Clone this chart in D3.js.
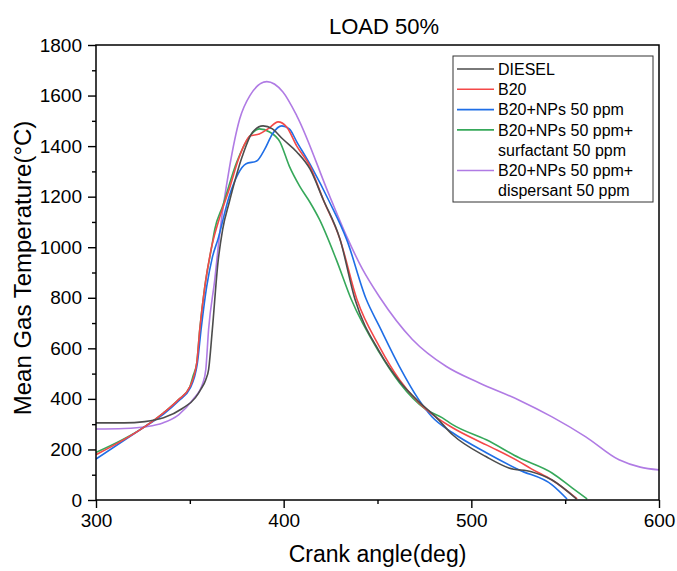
<!DOCTYPE html>
<html lang="en">
  <head>
    <meta charset="utf-8">
    <script src="https://d3js.org/d3.v7.min.js"></script>
    <style>
      body { margin: 0; background: #fff; }
      text { font-family: "Liberation Sans", Arial, sans-serif; fill: #000; }
    </style>
  </head>
  <body>
    <svg width="677" height="571"></svg>
    <script>
      // Data: crank angle (deg) and mean gas temperature (°C)
      var dieselAngle = [300, 315, 326, 336, 346, 353, 356, 358.5, 360, 362, 365, 367.5, 371, 378, 383.5, 389, 394, 399.5, 407, 414, 421, 430, 438, 451, 461.7, 472, 481, 490, 508, 520, 532, 543, 556];
      var dieselTemp  = [305, 305, 310, 325, 362, 405, 440, 476, 516, 675, 940, 1071, 1178, 1361, 1456, 1480, 1468, 1428, 1377, 1310, 1190, 1032, 794, 587, 470, 389, 329, 258, 171, 127, 112, 79, 4];

      var b20Angle = [300, 326, 336, 344, 350, 353.7, 355.3, 358, 361.7, 366, 371, 376, 380, 382, 387, 392, 397, 401.6, 407, 414, 421, 430, 439, 451, 461.7, 472, 481, 490, 508, 525.5, 532, 543, 556.4];
      var b20Temp  = [179, 290, 345, 397, 448, 543, 675, 845, 1004, 1120, 1230, 1350, 1420, 1440, 1448, 1470, 1496, 1476, 1400, 1321, 1190, 1032, 794, 607, 476, 385, 329, 286, 218, 152, 123, 79, 4];

      var npAngle = [300, 326, 336, 344, 350, 354, 356, 359, 362, 365, 371, 380, 385.6, 390, 394, 399, 403, 407, 415.4, 424.5, 433.5, 444, 451, 461.7, 472, 479, 490, 508, 525.5, 543, 551];
      var npTemp  = [162, 290, 340, 392, 440, 540, 675, 845, 960, 1032, 1202, 1330, 1341, 1389, 1448, 1480, 1468, 1417, 1310, 1178, 1032, 794, 687, 528, 397, 329, 266, 187, 119, 60, 4];

      var surfAngle = [300, 326, 336, 344, 350, 351.6, 353.7, 355.3, 358, 361.7, 363.3, 367.5, 375, 382, 387, 392.5, 398, 403, 408.5, 414, 419, 428, 436, 451, 461.7, 476, 484.6, 490, 508, 525.5, 543, 553.7, 561.7];
      var surfTemp  = [188, 290, 345, 397, 448, 488, 543, 675, 845, 1004, 1071, 1163, 1337, 1440, 1468, 1456, 1417, 1321, 1242, 1178, 1111, 952, 794, 583, 464, 357, 325, 298, 238, 167, 107, 48, 4];

      var dispAngle = [300, 315, 326.6, 335.6, 344, 351.6, 357, 358.5, 360, 363.3, 366, 371, 376.6, 382, 391, 399.5, 407, 424.5, 433.5, 442, 451, 468.6, 486.7, 504, 525.5, 543, 561, 578.7, 590, 600];
      var dispTemp  = [281, 283, 290, 305, 337, 397, 464, 516, 675, 873, 1060, 1310, 1508, 1600, 1655, 1615, 1520, 1202, 1044, 913, 804, 635, 528, 464, 395, 329, 250, 159, 130, 119];

      var seriesNames = ["DIESEL", "B20", "B20+NPs 50 ppm", "B20+NPs 50 ppm+\nsurfactant 50 ppm", "B20+NPs 50 ppm+\ndispersant 50 ppm"];
      var seriesColors = ["#4d4d4d", "#f44848", "#1f6ee6", "#36a85a", "#b07be4"];
      var xTicks = [300, 400, 500, 600];
      var yTicks = [0, 200, 400, 600, 800, 1000, 1200, 1400, 1600, 1800];

      var svg = d3.select("svg");
      var plotL = 96, plotR = 659, plotT = 45, plotB = 500;

      var x = d3.scaleLinear().domain([300, 600]).range([plotL, plotR]);
      var y = d3.scaleLinear().domain([0, 1800]).range([plotB, plotT]);

      var series = [
        [dieselAngle, dieselTemp],
        [b20Angle, b20Temp],
        [npAngle, npTemp],
        [surfAngle, surfTemp],
        [dispAngle, dispTemp]
      ].map(function(s, i) {
        return { name: seriesNames[i], color: seriesColors[i],
                 values: s[0].map(function(a, j) { return [a, s[1][j]]; }) };
      });

      svg.append("clipPath").attr("id", "clip")
        .append("rect")
          .attr("x", plotL).attr("y", plotT)
          .attr("width", plotR - plotL).attr("height", plotB - plotT);

      var line = d3.line()
        .x(function(d) { return x(d[0]); })
        .y(function(d) { return y(d[1]); })
        .curve(d3.curveMonotoneX);

      // curves, last series drawn first so the diesel sits on top
      svg.append("g")
        .attr("clip-path", "url(#clip)")
        .selectAll("path")
        .data(series.slice().reverse())
        .enter().append("path")
          .attr("fill", "none")
          .attr("stroke", function(d) { return d.color; })
          .attr("stroke-width", 1.6)
          .attr("d", function(d) { return line(d.values); });

      // axes
      var xAxis = svg.append("g")
        .attr("transform", "translate(0," + plotB + ")")
        .call(d3.axisBottom(x).tickValues(d3.range(300, 601, 50))
          .tickSize(8).tickPadding(6)
          .tickFormat(function(d) { return xTicks.indexOf(d) >= 0 ? d : ""; }));
      xAxis.selectAll(".tick line")
        .attr("y2", function(d) { return xTicks.indexOf(d) >= 0 ? 8 : 4; });

      var yAxis = svg.append("g")
        .attr("transform", "translate(" + plotL + ",0)")
        .call(d3.axisLeft(y).tickValues(d3.range(0, 1801, 100))
          .tickSize(8).tickPadding(6)
          .tickFormat(function(d) { return yTicks.indexOf(d) >= 0 ? d : ""; }));
      yAxis.selectAll(".tick line")
        .attr("x2", function(d) { return yTicks.indexOf(d) >= 0 ? -8 : -4; });

      svg.selectAll(".domain").remove();
      svg.selectAll(".tick line").attr("stroke", "#000").attr("stroke-width", 1.4);
      svg.selectAll(".tick text")
        .style("font-family", "'Liberation Sans', Arial, sans-serif")
        .style("font-size", "19px").attr("fill", "#000");

      // frame
      svg.append("rect")
        .attr("x", plotL).attr("y", plotT)
        .attr("width", plotR - plotL).attr("height", plotB - plotT)
        .attr("fill", "none").attr("stroke", "#000").attr("stroke-width", 1.5);

      // titles
      svg.append("text")
        .attr("x", 384).attr("y", 34)
        .attr("text-anchor", "middle")
        .style("font-size", "22px")
        .text("LOAD 50%");

      svg.append("text")
        .attr("x", (plotL + plotR) / 2).attr("y", 562)
        .attr("text-anchor", "middle")
        .style("font-size", "23px")
        .text("Crank angle(deg)");

      svg.append("text")
        .attr("transform", "translate(31,268) rotate(-90)")
        .attr("text-anchor", "middle")
        .style("font-size", "24px")
        .text("Mean Gas Temperature(°C)");

      // legend
      var legend = svg.append("g");
      legend.append("rect")
        .attr("x", 453).attr("y", 56)
        .attr("width", 200).attr("height", 146)
        .attr("fill", "#fff").attr("stroke", "#333").attr("stroke-width", 1);

      var rowY = 69;
      series.forEach(function(s) {
        var lines = s.name.split("\n");
        legend.append("line")
          .attr("x1", 457).attr("x2", 494)
          .attr("y1", rowY).attr("y2", rowY)
          .attr("stroke", s.color).attr("stroke-width", 1.6);
        lines.forEach(function(t, k) {
          legend.append("text")
            .attr("x", 498).attr("y", rowY + k * 20)
            .attr("dy", "0.35em")
            .style("font-size", "16px")
            .text(t);
        });
        rowY += lines.length * 20.3;
      });
    </script>
  </body>
</html>
